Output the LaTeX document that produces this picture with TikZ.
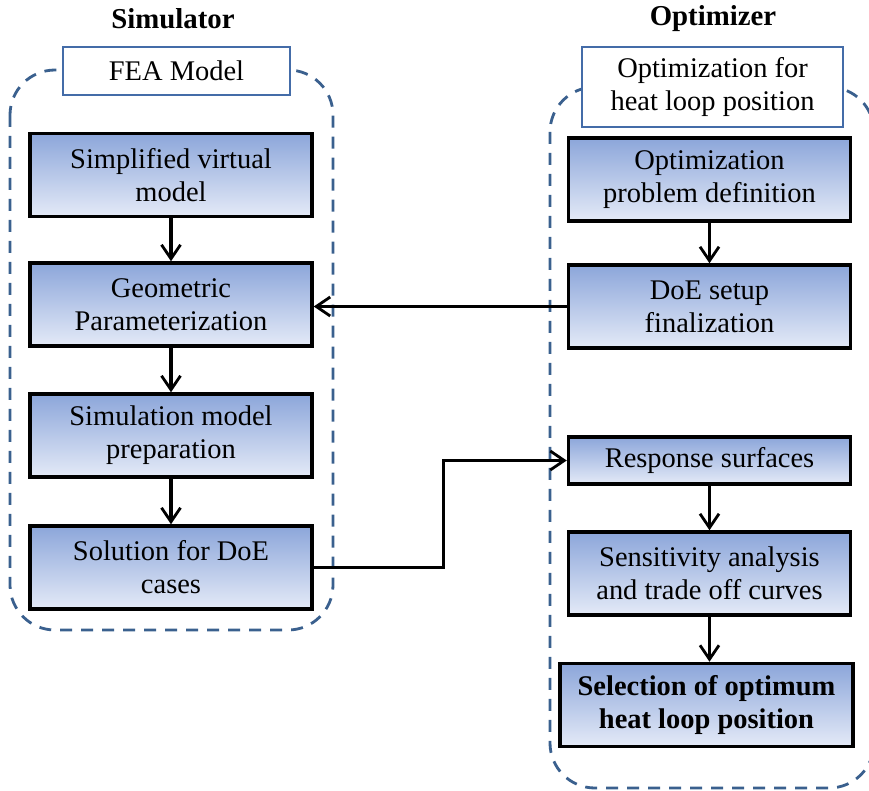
\documentclass[tikz,border=0pt]{standalone}
\usepackage{fontspec}
\setmainfont{Liberation Serif}
\usetikzlibrary{arrows.meta}
\definecolor{groupblue}{RGB}{58,96,142}
\definecolor{headblue}{RGB}{68,108,168}
\definecolor{boxtop}{RGB}{140,166,218}
\definecolor{boxbottom}{RGB}{228,234,247}
\tikzset{
  procbox/.style={draw=black, line width=2pt, top color=boxtop, bottom color=boxbottom,
    minimum width=5.64cm, minimum height=1.66cm, align=center, inner sep=2pt,
    font=\fontsize{16.2}{18.8}\selectfont},
  headbox/.style={draw=headblue, line width=1.6pt, fill=white, align=center, inner sep=2pt,
    font=\fontsize{16.2}{18.8}\selectfont},
  titletext/.style={font=\fontsize{16.4}{18.8}\selectfont\bfseries},
  flowarrow/.style={line width=1.8pt, -{Straight Barb[length=0.28cm,width=0.38cm,line width=1.6pt]}},
  groupline/.style={draw=groupblue, line width=1.6pt, dash pattern=on 0.24cm off 0.18cm, rounded corners=0.9cm}
}

\begin{document}
\begin{tikzpicture}[x=0.02cm,y=-0.02cm]
\useasboundingbox (0,0) rectangle (869,791);

% dashed groups
\draw[groupline] (10,70) rectangle (333,630);
\draw[groupline] (550,87) rectangle (874,788);

% titles
\node[titletext] (simtitle) at (173,19) {Simulator};
\node[titletext] (opttitle) at (713,19) {Optimizer};

% simulator side
\node[headbox, minimum width=4.54cm, minimum height=0.96cm] (fea) at (176.5,71) {FEA Model};
\node[procbox] (virt) at (171,175) {Simplified virtual\\model};
\node[procbox] (geom) at (171,304.5) {Geometric\\Parameterization};
\node[procbox] (prep) at (171,435.5) {Simulation model\\preparation};
\node[procbox] (solve) at (171,567.5) {Solution for DoE\\cases};

% optimizer side
\node[headbox, minimum width=5.22cm, minimum height=1.6cm] (optfor) at (712.5,87) {Optimization for\\heat loop position};
\node[procbox] (probdef) at (709.5,179.5) {Optimization\\problem definition};
\node[procbox] (doe) at (709.5,306.5) {DoE setup\\finalization};
\node[procbox, minimum height=0.94cm] (resp) at (709.5,460.5) {Response surfaces};
\node[procbox] (sens) at (709.5,573.5) {Sensitivity analysis\\and trade off curves};
\node[procbox, minimum width=5.86cm, font=\fontsize{16.2}{18.8}\selectfont\bfseries] (select) at (706.5,705) {Selection of optimum\\heat loop position};

% arrows
\draw[flowarrow] (virt) -- (geom);
\draw[flowarrow] (geom) -- (prep);
\draw[flowarrow] (prep) -- (solve);
\draw[flowarrow] (probdef) -- (doe);
\draw[flowarrow] (resp) -- (sens);
\draw[flowarrow] (sens.south) -- (sens.south |- select.north);
\draw[flowarrow] (doe.west) -- (doe.west -| geom.east);
\draw[flowarrow] (solve.east) -- ++(130,0) |- (resp.west);

\end{tikzpicture}
\end{document}
